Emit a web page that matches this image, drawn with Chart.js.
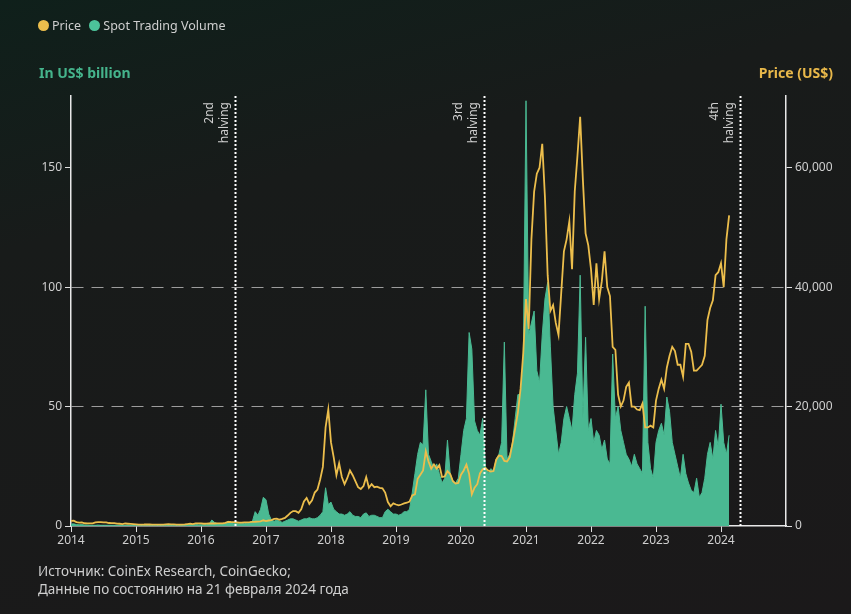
<!DOCTYPE html>
<html>
<head>
<meta charset="utf-8">
<script src="https://cdn.jsdelivr.net/npm/chart.js@4"></script>
<style>
  html, body { margin: 0; padding: 0; }
  body {
    width: 851px; height: 614px; overflow: hidden; position: relative;
    background: linear-gradient(165deg, #0f201b 0%, #181b1a 30%, #1b191a 100%);
    font-family: "Noto Sans", sans-serif;
  }
  #wrap { position: absolute; left: 0; top: 0; width: 851px; height: 614px; }
  .txt { position: absolute; color: #cfcfcf; font-size: 13px; white-space: nowrap; }
  .dot { display: inline-block; width: 11px; height: 11px; border-radius: 50%; vertical-align: -1px; margin-right: 3px; }
</style>
</head>
<body>
<div id="wrap"><canvas id="myChart"></canvas></div>
<div class="txt" style="left:38px; top:17px; font-size:12.5px;">
  <span class="dot" style="background:#ecbe4c"></span>Price
  <span class="dot" style="background:#4cc39a; margin-left:5px"></span>Spot Trading Volume
</div>
<div class="txt" style="left:39px; top:63px; font-size:14px; font-weight:bold; color:#45b48c;">In US$ billion</div>
<div class="txt" style="right:18px; top:63px; font-size:14px; font-weight:bold; color:#e8b84a;">Price (US$)</div>
<div class="txt" style="left:38px; top:562px; line-height:18px; font-size:13.5px;">Источник: CoinEx Research, CoinGecko;<br>Данные по состоянию на 21 февраля 2024 года</div>
<script>
// half-month periods, Jan 2014 .. Feb 2024
var periods = [];
for (var y = 2014; y <= 2024; y++) {
  for (var m = 0; m < 12; m++) {
    if (y == 2024 && m > 1) break;
    periods.push(y + m / 12);
    periods.push(y + (m + 0.5) / 12);
  }
}

// BTC price, US$
var price = [
  850,900,650,560,620,460,450,440,450,600,650,640,620,590,500,480,470,390,380,330,420,380,350,320,
  270,230,240,250,280,250,230,235,240,230,235,260,290,285,260,230,235,237,260,315,380,330,450,430,
  430,380,400,435,415,415,425,450,455,530,700,670,660,625,575,575,605,605,640,700,710,740,780,960,
  830,920,1000,1180,1240,1050,1180,1350,1750,2200,2500,2480,2200,2800,4100,4700,3700,4300,5600,6100,7800,9900,16500,19500,
  14000,11500,8500,10500,8200,7000,8000,9300,8500,7500,6500,6200,6700,8200,6400,7000,6500,6600,6400,6300,5600,4000,3300,3800,
  3600,3450,3600,3800,3900,4100,5100,5300,7900,8600,9300,12500,10800,9600,10300,9600,10200,8200,8300,9200,8700,7500,7100,7200,
  8600,9300,10300,8700,5300,6400,7000,8800,9500,9700,9300,9100,9200,11100,11800,11700,10900,10800,11500,13800,16300,19000,23000,29000,
  38000,33000,48000,56000,59000,60000,64000,55000,42000,36000,37000,34000,32000,39000,46000,48000,51000,43000,56000,62000,68500,58000,49000,47000,
  43000,37000,44000,38000,41000,46000,40000,38500,30000,29500,22000,20000,21000,23300,24000,20000,20000,19500,19400,20500,16500,16500,16800,16500,
  21000,23000,24500,23000,26500,28500,30000,29300,27000,27000,25000,30500,30500,29200,26000,26000,26500,27000,28500,34500,36500,37800,42000,42500,
  44000,40000,48000,52000
];

// spot trading volume, US$ billion
var volume = [
  0.8,0.9,0.6,0.5,0.6,0.4,0.4,0.3,0.3,0.3,0.4,0.3,0.3,0.3,0.3,0.3,0.3,0.3,0.3,0.3,0.3,0.3,0.3,0.3,
  0.4,0.3,0.2,0.2,0.3,0.2,0.2,0.2,0.2,0.2,0.2,0.2,0.3,0.2,0.2,0.2,0.2,0.2,0.3,0.4,0.8,0.5,0.6,0.5,
  0.5,0.5,0.6,0.8,2.5,1.5,1.0,0.8,0.8,1.2,2.0,1.5,1.2,1.0,0.9,1.0,1.0,1.2,1.5,2.0,6.0,4.5,7.0,12.0,
  11,5,2.5,2,2.5,2,1.5,2,2.5,3,3,2.5,2,2.5,3,3,3.5,3,3,3.5,4.5,6,16,9,
  10,7,6,5,5,4.5,5,6,4.5,4,4,3.5,5,5.5,4,4.5,4.5,4,3.5,3.5,6,7,6,5,
  5,4.5,5,6,6,7,14,22,30,35,34,57,30,27,24,26,22,18,20,36,22,19,18,20,
  30,40,45,81,74,44,40,38,45,25,22,24,23,28,30,35,77,28,30,35,45,55,55,70,
  178,80,85,90,65,60,80,95,102,75,50,40,30,35,45,50,45,40,55,64,105,45,79,40,
  45,35,40,38,32,36,28,26,72,45,50,40,35,30,28,25,30,26,24,22,92,35,24,20,
  35,40,43,38,54,48,35,30,25,20,30,22,18,15,14,20,12,14,20,30,35,28,40,33,
  51,35,30,38
];

var halvings = [2016.52, 2020.36, 2024.3];
var halvingNames = ['2nd', '3rd', '4th'];
var yearTicks = [2014,2015,2016,2017,2018,2019,2020,2021,2022,2023,2024];
var volumeTicks = [0, 50, 100, 150];
var priceTicks = [0, 20000, 40000, 60000];

var tickFont = { family: 'Noto Sans', size: 12 };
var tickColor = '#cfcfcf';

var halvingPlugin = {
  id: 'halvings',
  afterDatasetsDraw: function(chart) {
    var ctx = chart.ctx, area = chart.chartArea, xs = chart.scales.x;
    ctx.save();
    for (var i = 0; i < halvings.length; i++) {
      var x = Math.round(xs.getPixelForValue(halvings[i])) + 0.5;
      ctx.strokeStyle = '#ffffff';
      ctx.lineWidth = 2;
      ctx.setLineDash([2, 2]);
      ctx.beginPath();
      ctx.moveTo(x, area.top);
      ctx.lineTo(x, area.bottom);
      ctx.stroke();
      ctx.setLineDash([]);
      ctx.save();
      ctx.translate(x, area.top + 6);
      ctx.rotate(-Math.PI / 2);
      ctx.fillStyle = '#cfcfcf';
      ctx.font = '12px "Noto Sans"';
      ctx.textAlign = 'right';
      ctx.textBaseline = 'middle';
      ctx.fillText(halvingNames[i], 0, -26);
      ctx.fillText('halving', 0, -11);
      ctx.restore();
    }
    ctx.restore();
  }
};

var ctx = document.getElementById('myChart');
var chart = new Chart(ctx, {
  type: 'line',
  data: {
    labels: periods,
    datasets: [
      {
        label: 'Price',
        data: periods.map(function(p, i) { return { x: p, y: price[i] }; }),
        yAxisID: 'y2',
        borderColor: '#ecbe4c',
        borderWidth: 1.8,
        pointRadius: 0,
        tension: 0,
        order: 0
      },
      {
        label: 'Spot Trading Volume',
        data: periods.map(function(p, i) { return { x: p, y: volume[i] }; }),
        yAxisID: 'y',
        borderColor: '#4ab992',
        backgroundColor: '#4ab992',
        borderWidth: 1,
        pointRadius: 0,
        tension: 0,
        fill: 'origin',
        order: 1
      }
    ]
  },
  options: {
    responsive: true,
    maintainAspectRatio: false,
    animation: false,
    layout: { padding: { left: 31, right: 0, top: 96, bottom: 58 } },
    plugins: { legend: { display: false }, tooltip: { enabled: false } },
    scales: {
      x: {
        type: 'linear',
        min: 2014,
        max: 2025,
        afterBuildTicks: function(s) { s.ticks = yearTicks.map(function(v) { return { value: v }; }); },
        afterFit: function(s) { s.height = 30; },
        ticks: { color: tickColor, font: tickFont, padding: 1, maxRotation: 0, callback: function(v) { return String(v); } },
        grid: { drawOnChartArea: false, drawTicks: true, tickLength: 6, tickColor: '#e0e0e0', color: '#e0e0e0' },
        border: { display: true, color: '#e8e8e8', width: 1.5 }
      },
      y: {
        position: 'left',
        min: 0,
        max: 180,
        afterBuildTicks: function(s) { s.ticks = volumeTicks.map(function(v) { return { value: v }; }); },
        afterFit: function(s) { s.width = 40; },
        ticks: { color: tickColor, font: tickFont, padding: 3 },
        grid: {
          drawTicks: true, tickLength: 6, tickColor: '#e0e0e0',
          color: function(c) { return (c.tick && (c.tick.value == 50 || c.tick.value == 100)) ? 'rgba(200,200,200,0.75)' : 'rgba(0,0,0,0)'; },
          lineWidth: 1
        },
        border: { display: true, color: '#e8e8e8', width: 1.5, dash: [12, 8] }
      },
      y2: {
        position: 'right',
        min: 0,
        max: 72000,
        afterBuildTicks: function(s) { s.ticks = priceTicks.map(function(v) { return { value: v }; }); },
        afterFit: function(s) { s.width = 65; },
        ticks: { color: tickColor, font: tickFont, padding: 3, callback: function(v) { return v.toLocaleString('en-US'); } },
        grid: { drawOnChartArea: false, drawTicks: true, tickLength: 6, tickColor: '#e0e0e0', color: '#e0e0e0' },
        border: { display: true, color: '#e8e8e8', width: 1.5 }
      }
    }
  },
  plugins: [halvingPlugin]
});
</script>
</body>
</html>
